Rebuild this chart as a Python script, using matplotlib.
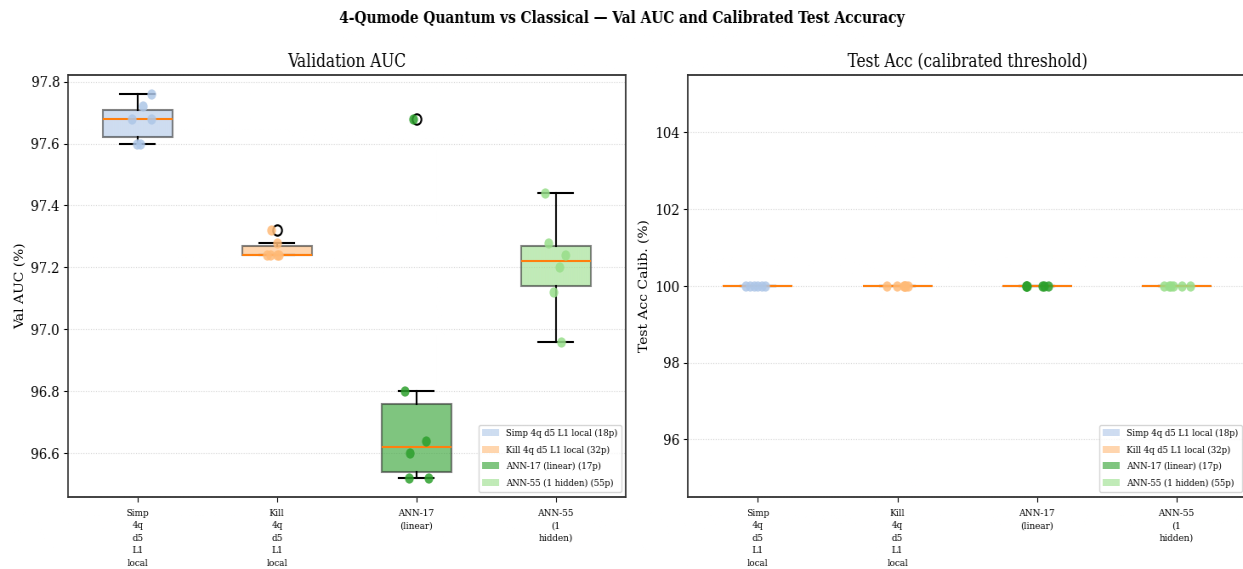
import numpy as np
import matplotlib.pyplot as plt
from matplotlib.patches import Patch

plt.rcParams['font.family'] = 'DejaVu Serif'

# model names / legend labels
models = ['Simp 4q d5 L1 local', 'Kill 4q d5 L1 local', 'ANN-17 (linear)', 'ANN-55 (1 hidden)']
n_params = [18, 32, 17, 55]
tick_labels = ['Simp\n4q\nd5\nL1\nlocal', 'Kill\n4q\nd5\nL1\nlocal', 'ANN-17\n(linear)', 'ANN-55\n(1\nhidden)']
colors = ['#aec7e8', '#ffbb78', '#2ca02c', '#98df8a']

# validation AUC (%) per seed
val_simp = [97.76, 97.72, 97.68, 97.68, 97.60, 97.60]
val_kill = [97.32, 97.28, 97.24, 97.24, 97.24, 97.24]
val_ann17 = [97.68, 96.80, 96.64, 96.60, 96.52, 96.52]
val_ann55 = [97.44, 97.28, 97.24, 97.20, 97.12, 96.96]

# calibrated test accuracy (%) per seed
test_simp = [100.0, 100.0, 100.0, 100.0, 100.0, 100.0]
test_kill = [100.0, 100.0, 100.0, 100.0, 100.0, 100.0]
test_ann17 = [100.0, 100.0, 100.0, 100.0, 100.0, 100.0]
test_ann55 = [100.0, 100.0, 100.0, 100.0, 100.0, 100.0]

# horizontal jitter of the seed dots
jit_val = [[0.10, 0.037, -0.04, 0.096, -0.008, 0.019],
           [-0.04, 0.0, -0.075, -0.048, 0.0, 0.013],
           [-0.024, -0.083, 0.067, -0.048, -0.053, 0.088],
           [-0.077, -0.05, 0.072, 0.024, -0.016, 0.04]]
jit_test = [[-0.088, -0.06, -0.03, 0.0, 0.03, 0.05],
            [-0.077, -0.005, 0.052, 0.074, 0.06, 0.045],
            [-0.08, -0.069, 0.036, 0.08, -0.075, 0.05],
            [-0.09, -0.055, -0.022, 0.036, 0.1, -0.04]]

val_data = [val_simp, val_kill, val_ann17, val_ann55]
test_data = [test_simp, test_kill, test_ann17, test_ann55]

OUT_W, OUT_H = 1243, 569
SQUASH = 0.85  # the target picture is horizontally compressed

fig = plt.figure(figsize=(OUT_W / SQUASH / 100, OUT_H / 100 + 0.001), dpi=100)
ax1 = fig.add_axes([0.0547, 0.1265, 0.4483, 0.7417])
ax2 = fig.add_axes([0.5535, 0.1265, 0.4489, 0.7417])


def draw(ax, data, jit, title, ylabel):
    bp = ax.boxplot(data, patch_artist=True, widths=0.5,
                    boxprops=dict(linewidth=1.5),
                    whiskerprops=dict(color='black', linewidth=1.5),
                    capprops=dict(color='black', linewidth=1.5),
                    medianprops=dict(color='#ff7f0e', linewidth=1.5),
                    flierprops=dict(marker='o', markerfacecolor='none',
                                    markeredgecolor='black', markersize=7.5,
                                    markeredgewidth=1.5))
    for patch, c in zip(bp['boxes'], colors):
        patch.set_facecolor(c)
        patch.set_alpha(0.6)
        patch.set_edgecolor('#333333')
    for i, (vals, j) in enumerate(zip(data, jit)):
        ax.scatter(np.full(len(vals), i + 1) + np.array(j), vals,
                   color=colors[i], s=55, alpha=0.85, zorder=3, linewidths=0)
    ax.set_xticks(range(1, 5))
    ax.set_xticklabels(tick_labels, fontsize=7.5, linespacing=1.5)
    ax.tick_params(axis='x', pad=5)
    ax.set_title(title, fontsize=13)
    ax.set_ylabel(ylabel, fontsize=10)
    ax.tick_params(axis='y', labelsize=11)
    ax.grid(axis='y', linestyle=':', alpha=0.5)
    for s in ax.spines.values():
        s.set_linewidth(1.3)
        s.set_color('#333333')
    handles = [Patch(facecolor=c, alpha=0.6, label=f'{m} ({p}p)')
               for c, m, p in zip(colors, models, n_params)]
    ax.legend(handles=handles, loc='lower right', fontsize=7.2, labelspacing=0.75)


draw(ax1, val_data, jit_val, 'Validation AUC', 'Val AUC (%)')
draw(ax2, test_data, jit_test, 'Test Acc (calibrated threshold)', 'Test Acc Calib. (%)')

fig.suptitle('4-Qumode Quantum vs Classical \u2014 Val AUC and Calibrated Test Accuracy',
             fontsize=11.7, fontweight='bold', y=0.982)


def resize(img, n, axis):
    # area-average resampling along one axis
    img = np.moveaxis(img, axis, 0)
    m = img.shape[0]
    edges = np.linspace(0, m, n + 1)
    cs = np.concatenate([np.zeros((1,) + img.shape[1:]), np.cumsum(img, axis=0)])
    i0 = np.clip(np.floor(edges).astype(int), 0, m - 1)
    fr = (edges - i0).reshape((-1,) + (1,) * (img.ndim - 1))
    cse = cs[i0] + fr * (cs[i0 + 1] - cs[i0])
    res = np.diff(cse, axis=0) / np.diff(edges).reshape((-1,) + (1,) * (img.ndim - 1))
    return np.moveaxis(res, 0, axis)


fig.canvas.draw()
img = np.asarray(fig.canvas.buffer_rgba(), dtype=float)[:, :, :3] / 255.0
img = resize(img, OUT_W, 1)
img = resize(img, OUT_H, 0)
plt.imsave('out.png', np.clip(img, 0, 1))
